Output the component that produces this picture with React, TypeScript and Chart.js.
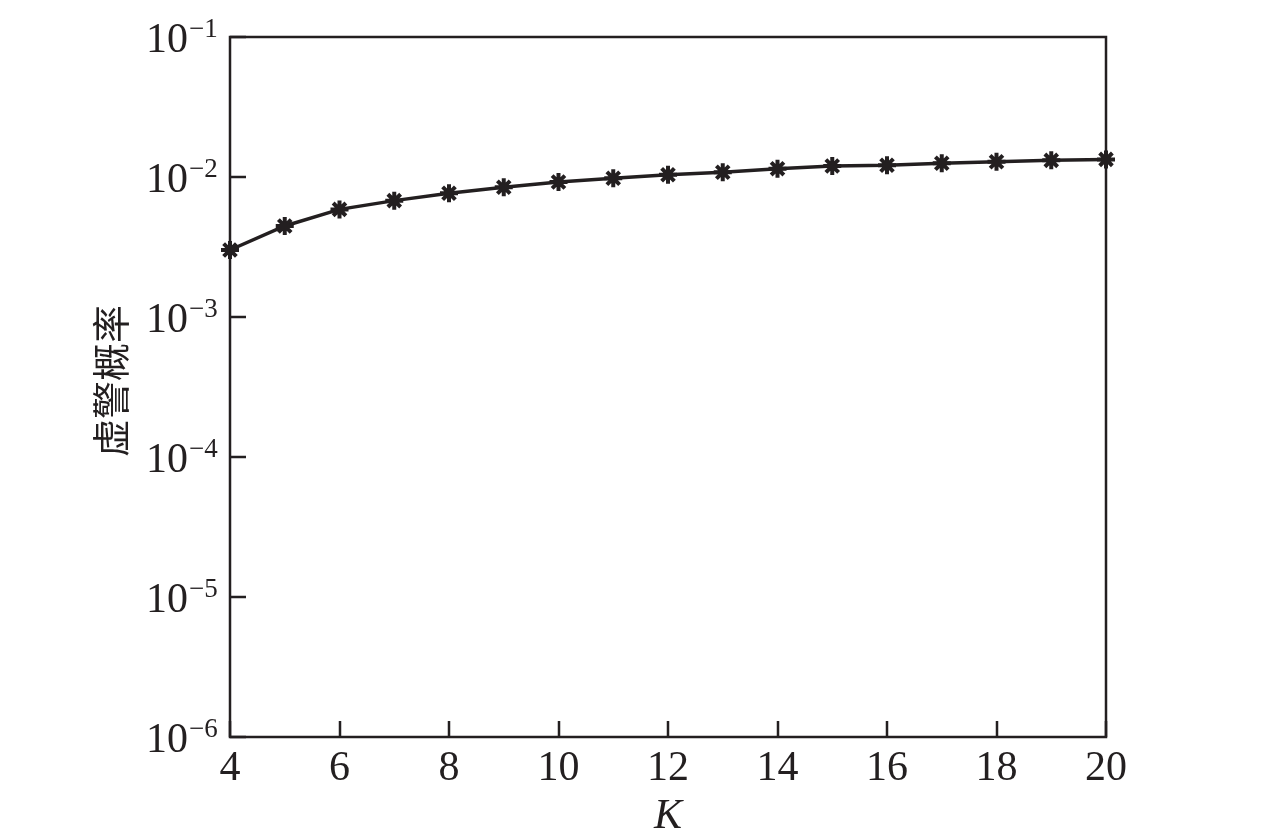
import React, { useEffect, useRef } from "react";
import { Chart, registerables } from "chart.js";

Chart.register(...registerables);

const kValues = [4, 5, 6, 7, 8, 9, 10, 11, 12, 13, 14, 15, 16, 17, 18, 19, 20];
const falseAlarm = [
  3.01e-3, 4.47e-3, 5.87e-3, 6.78e-3, 7.66e-3, 8.44e-3, 9.2e-3, 9.8e-3,
  1.038e-2, 1.081e-2, 1.147e-2, 1.199e-2, 1.213e-2, 1.253e-2, 1.286e-2,
  1.315e-2, 1.336e-2,
];
const xTicks = [4, 6, 8, 10, 12, 14, 16, 18, 20];
const yExponents = [-6, -5, -4, -3, -2, -1];
const xTitle = "K";
const yTitle = "虚警概率";

const SERIF = '"Liberation Serif", "DejaVu Serif", serif';
const CJK = '"Noto Sans CJK SC", sans-serif';

const axesPlugin = {
  id: "axesPlugin",
  beforeDatasetsDraw(chart: any) {
    const { ctx, chartArea, scales } = chart;
    const { left, right, top, bottom } = chartArea;
    ctx.save();
    ctx.strokeStyle = "#231f20";
    ctx.lineWidth = 2.5;
    ctx.strokeRect(left, top, right - left, bottom - top);
    ctx.beginPath();
    for (const e of yExponents) {
      const y = Math.round(scales.y.getPixelForValue(Math.pow(10, e)));
      ctx.moveTo(left, y);
      ctx.lineTo(left + 16, y);
    }
    for (const k of xTicks) {
      const x = Math.round(scales.x.getPixelForValue(k));
      ctx.moveTo(x, bottom);
      ctx.lineTo(x, bottom - 16);
    }
    ctx.stroke();
    ctx.restore();
  },
  afterDraw(chart: any) {
    const { ctx, chartArea, scales } = chart;
    const { left, right, bottom } = chartArea;
    ctx.save();
    ctx.fillStyle = "#231f20";
    for (const e of yExponents) {
      const y = scales.y.getPixelForValue(Math.pow(10, e));
      ctx.font = `42px ${SERIF}`;
      ctx.textAlign = "right";
      ctx.textBaseline = "alphabetic";
      ctx.fillText("10", left - 42, y + 15);
      ctx.font = `27px ${SERIF}`;
      ctx.textAlign = "left";
      ctx.fillText("\u2212" + String(-e), left - 41, y);
    }
    ctx.font = `42px ${SERIF}`;
    ctx.textAlign = "center";
    ctx.textBaseline = "alphabetic";
    for (const k of xTicks) {
      const x = scales.x.getPixelForValue(k);
      ctx.fillText(String(k), x, bottom + 43);
    }
    ctx.font = `italic 42px ${SERIF}`;
    ctx.fillText(xTitle, (left + right) / 2, bottom + 91);
    ctx.translate(111, 381);
    ctx.rotate(-Math.PI / 2);
    ctx.font = `38px ${CJK}`;
    ctx.textAlign = "center";
    ctx.textBaseline = "middle";
    ctx.fillText(yTitle, 0, 0);
    ctx.restore();
  },
};

export default function App() {
  const canvasRef = useRef<HTMLCanvasElement | null>(null);

  useEffect(() => {
    if (!canvasRef.current) return;
    const data = kValues.map((k, i) => ({ x: k, y: falseAlarm[i] }));
    const chart = new Chart(canvasRef.current, {
      type: "line",
      data: {
        datasets: [
          {
            data,
            borderColor: "#231f20",
            backgroundColor: "#231f20",
            borderWidth: 3.5,
            pointStyle: "star",
            pointRadius: 9,
            pointBorderWidth: 4,
            pointBorderColor: "#231f20",
            pointBackgroundColor: "#231f20",
            tension: 0,
            clip: false,
          } as any,
        ],
      },
      options: {
        animation: false,
        responsive: false,
        layout: { padding: { left: 230, right: 170, top: 37, bottom: 96 } },
        plugins: {
          legend: { display: false },
          tooltip: { enabled: false },
        },
        scales: {
          x: {
            type: "linear",
            min: 4,
            max: 20,
            grid: { display: false, drawTicks: false },
            border: { display: false },
            ticks: { display: false },
            afterFit: (s: any) => {
              s.height = 0;
            },
          },
          y: {
            type: "logarithmic",
            min: 1e-6,
            max: 1e-1,
            grid: { display: false, drawTicks: false },
            border: { display: false },
            ticks: { display: false },
            afterFit: (s: any) => {
              s.width = 0;
            },
          },
        },
      },
      plugins: [axesPlugin],
    });
    return () => chart.destroy();
  }, []);

  return (
    <div
      style={{
        position: "fixed",
        left: 0,
        top: 0,
        width: 1276,
        height: 833,
        background: "#fff",
      }}
    >
      <canvas
        ref={canvasRef}
        width={1276}
        height={833}
        style={{ display: "block", width: 1276, height: 833 }}
      />
    </div>
  );
}
